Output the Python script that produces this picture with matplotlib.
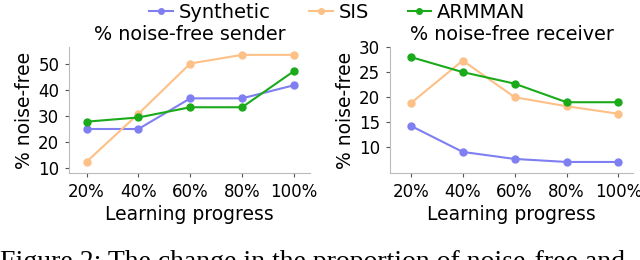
import matplotlib.pyplot as plt

progress = ['20%', '40%', '60%', '80%', '100%']

sender_synthetic = [25.0, 25.0, 36.7, 36.7, 41.7]
sender_sis = [12.5, 30.8, 50.0, 53.3, 53.3]
sender_armman = [27.8, 29.4, 33.3, 33.3, 47.1]

receiver_synthetic = [14.3, 9.1, 7.7, 7.1, 7.1]
receiver_sis = [18.8, 27.3, 20.0, 18.2, 16.7]
receiver_armman = [28.0, 25.0, 22.7, 19.0, 19.0]

colors = {'Synthetic': '#7f7ff2', 'SIS': '#fdc086', 'ARMMAN': '#1aaa1a'}

fig = plt.figure(figsize=(6.4, 2.6), dpi=100)
ax1 = fig.add_axes([69 / 640, 87 / 260, 241 / 640, 126 / 260])
ax2 = fig.add_axes([390 / 640, 87 / 260, 243 / 640, 126 / 260])

x = list(range(len(progress)))
panels = [
    (ax1, [sender_synthetic, sender_sis, sender_armman], '% noise-free sender', (8.2, 56.3), [10, 20, 30, 40, 50]),
    (ax2, [receiver_synthetic, receiver_sis, receiver_armman], '% noise-free receiver', (4.9, 30.0), [10, 15, 20, 25, 30]),
]

for ax, series, title, ylim, yticks in panels:
    for name, vals in zip(colors, series):
        ax.plot(x, vals, marker='o', markersize=5, linewidth=1.5,
                color=colors[name], label=name)
    ax.set_xticks(x)
    ax.set_xticklabels(progress, fontsize=12)
    ax.set_yticks(yticks)
    ax.tick_params(axis='y', labelsize=12)
    ax.tick_params(colors='#555555', labelcolor='black', width=0.8, length=3, pad=4)
    ax.set_ylim(*ylim)
    ax.set_title(title, fontsize=13.8, pad=5)
    ax.set_xlabel('Learning progress', fontsize=13.5, labelpad=3)
    ax.set_ylabel('% noise-free', fontsize=13.5, labelpad=3)
    for side in ['top', 'right']:
        ax.spines[side].set_visible(False)
    for side in ['left', 'bottom']:
        ax.spines[side].set_color('#bbbbbb')

ax1.set_xlim(-0.34, 4.31)
ax2.set_xlim(-0.4, 4.28)

handles, labels = ax1.get_legend_handles_labels()
fig.legend(handles, labels, loc='upper center', ncol=3, frameon=False,
           fontsize=14, bbox_to_anchor=(0.527, 1.035), handlelength=1.2,
           handletextpad=0.3, columnspacing=2.0, markerscale=0.8,
           borderaxespad=0.2)

fig.text(0.0, 0.04, 'Figure 2: The change in the proportion of noise-free and',
         fontsize=20, family='Liberation Serif', va='top', ha='left')

fig.savefig('out.png', dpi=100)
